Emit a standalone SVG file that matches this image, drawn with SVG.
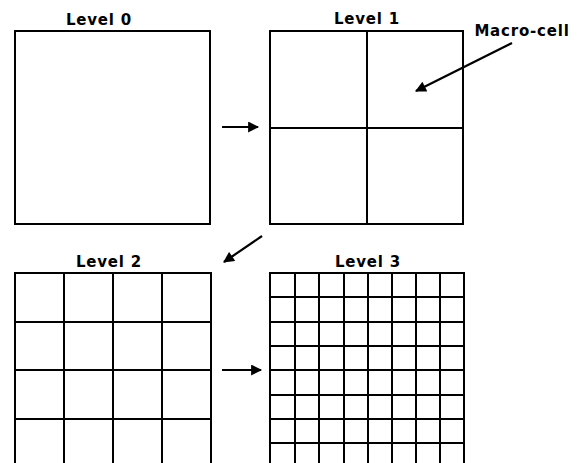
<svg xmlns="http://www.w3.org/2000/svg" width="581" height="463" viewBox="0 0 581 463">
<style>
.box{fill:#fff;stroke:#000;stroke-width:2}
.grid{stroke:#000;stroke-width:2;fill:none}
.lbl{font-family:"DejaVu Sans",sans-serif;font-weight:bold;font-size:15px;letter-spacing:0.8px;fill:#000}
.conn{stroke:#000;stroke-width:2.2;fill:none;marker-end:url(#ah)}
</style>
<defs>
<marker id="ah" viewBox="0 0 10 10" refX="9" refY="5" markerWidth="6" markerHeight="5" orient="auto" markerUnits="strokeWidth">
<path d="M0,0 L10,5 L0,10 Z" fill="#000"/>
</marker>
</defs>
<rect width="581" height="463" fill="#fff"/>
<g id="level0">
<rect class="box" x="15" y="31" width="195" height="193"/>
<text class="lbl" x="99" y="25" text-anchor="middle">Level 0</text>
</g>
<g id="level1">
<rect class="box" x="270" y="31" width="193" height="193"/>
<path class="grid" d="M367,31V224M270,128H463"/>
<text class="lbl" x="367" y="24" text-anchor="middle">Level 1</text>
</g>
<g id="macrocell">
<text class="lbl" x="522" y="36" text-anchor="middle">Macro-cell</text>
</g>
<g id="level2">
<rect class="box" x="15" y="273" width="196" height="200"/>
<path class="grid" d="M64,273V463M113,273V463M162,273V463M15,322H211M15,370H211M15,419H211"/>
<text class="lbl" x="109" y="267" text-anchor="middle">Level 2</text>
</g>
<g id="level3">
<rect class="box" x="270" y="273" width="194" height="200"/>
<path class="grid" d="M295,273V463M319,273V463M344,273V463M368,273V463M392,273V463M416,273V463M440,273V463M270,297H464M270,322H464M270,346H464M270,370H464M270,395H464M270,419H464M270,443H464"/>
<text class="lbl" x="368" y="267" text-anchor="middle">Level 3</text>
</g>
<g id="connectors">
<line class="conn" x1="222" y1="127" x2="258" y2="127"/>
<line class="conn" x1="512" y1="43" x2="416" y2="91"/>
<line class="conn" x1="262" y1="236" x2="224" y2="262"/>
<line class="conn" x1="222" y1="370" x2="261" y2="370"/>
</g>
</svg>
